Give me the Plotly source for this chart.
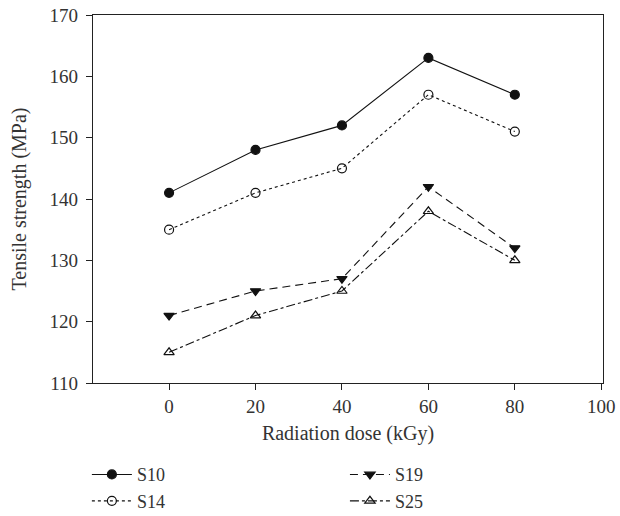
import plotly.graph_objects as go

dose = [0, 20, 40, 60, 80]
s10 = [141, 148, 152, 163, 157]
s14 = [135, 141, 145, 157, 151]
s19 = [121, 125, 127, 142, 132]
s25 = [115, 121, 125, 138, 130]

FONT = "Liberation Serif"
fig = go.Figure()

series = [
    ("S10", s10, "solid", "circle", "#111", "legend"),
    ("S14", s14, "dot", "circle-open", "#111", "legend"),
    ("S19", s19, "8px,5px", "triangle-down", "#111", "legend2"),
    ("S25", s25, "dashdot", "triangle-up-open", "#111", "legend2"),
]
for name, ys, dash, sym, col, leg in series:
    fig.add_trace(go.Scatter(
        x=dose, y=ys, name=name, mode="lines+markers",
        line=dict(color=col, width=1.1, dash=dash),
        marker=dict(symbol=sym, size=9, color=col, line=dict(color=col, width=1.2)),
        legend=leg,
    ))

axis_common = dict(
    showline=True, linecolor="#222", linewidth=1.2, mirror=True,
    ticks="outside", ticklen=6, tickcolor="#222", tickwidth=1,
    showgrid=False, zeroline=False,
    tickfont=dict(family=FONT, size=19, color="#333"),
)
fig.update_xaxes(range=[-17.6, 100.4], tickvals=[0, 20, 40, 60, 80, 100],
                 title=dict(text="Radiation dose (kGy)", font=dict(family=FONT, size=20, color="#333"), standoff=10),
                 **axis_common)
fig.update_yaxes(range=[110, 170], tickvals=[110, 120, 130, 140, 150, 160, 170],
                 title=dict(text="Tensile strength (MPa)", font=dict(family=FONT, size=20, color="#333"), standoff=17),
                 ticklabelstandoff=4,
                 **axis_common)

legend_common = dict(
    font=dict(family=FONT, size=18, color="#333"),
    bgcolor="rgba(0,0,0,0)", borderwidth=0,
    xanchor="left", yanchor="top", tracegroupgap=0, itemwidth=40,
)
fig.update_layout(
    width=620, height=516,
    margin=dict(l=93, r=17, t=15, b=133, autoexpand=False),
    plot_bgcolor="white", paper_bgcolor="white",
    legend=dict(x=-0.012, y=-0.199, **legend_common),
    legend2=dict(x=0.494, y=-0.199, **legend_common),
)
fig.write_html("out.html")
